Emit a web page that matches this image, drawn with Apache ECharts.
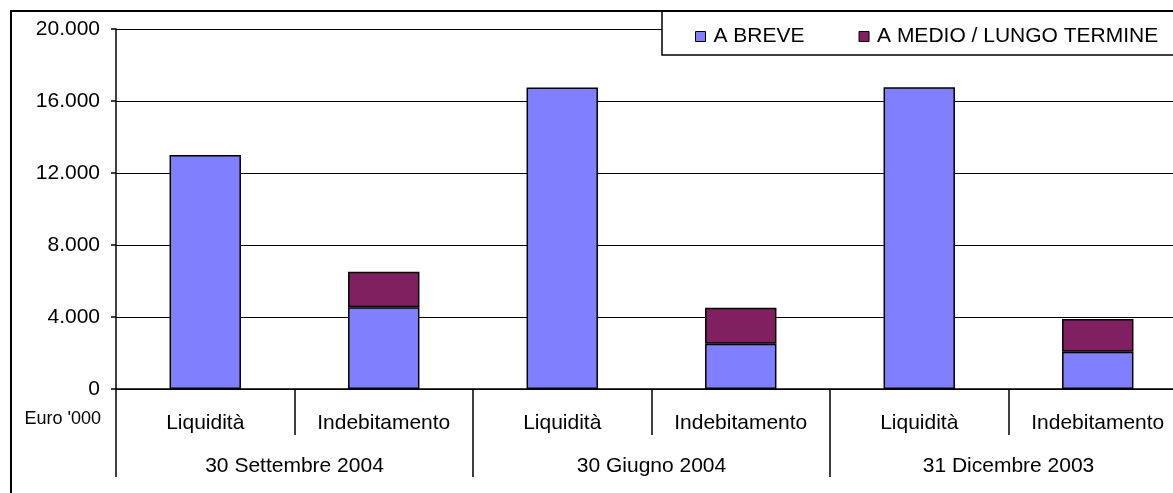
<!DOCTYPE html>
<html>
<head>
<meta charset="utf-8">
<script src="https://cdn.jsdelivr.net/npm/echarts@6/dist/echarts.min.js"></script>
<style>
html,body{margin:0;padding:0;background:#fff;}
#chart{width:1173px;height:493px;}
</style>
</head>
<body>
<div id="chart"></div>
<script>
var categories = ['Liquidità', 'Indebitamento', 'Liquidità', 'Indebitamento', 'Liquidità', 'Indebitamento'];
var groups = ['30 Settembre 2004', '30 Giugno 2004', '31 Dicembre 2003'];
var seriesNames = ['A BREVE', 'A MEDIO / LUNGO TERMINE'];
var breve = [13000, 4540, 16750, 2520, 16770, 2070];
var medio = [null, 1980, null, 2000, null, 1820];
var yTicks = [0, 4000, 8000, 12000, 16000, 20000];
var unitLabel = "Euro '000";

var FONT = "'Liberation Sans', Arial, sans-serif";
var chart = echarts.init(document.getElementById('chart'));

function fmt(v) {
  if (v === 0) return '0';
  return (v / 1000) + '.000';
}

chart.setOption({
  animation: false,
  backgroundColor: '#ffffff',
  textStyle: { fontFamily: FONT, color: '#000' },
  grid: { left: 116, top: 29, width: 1071, bottom: 104, containLabel: false, outerBoundsMode: 'none' },
  legend: {
    data: seriesNames,
    left: 690,
    top: 21,
    icon: 'rect',
    itemWidth: 10,
    itemHeight: 10,
    itemGap: 54,
    itemStyle: { borderColor: '#000', borderWidth: 1 },
    textStyle: { fontFamily: FONT, fontSize: 21, color: '#000', padding: [0, 0, 0, 3] },
    selectedMode: false
  },
  xAxis: [
    {
      type: 'category',
      data: categories,
      position: 'bottom',
      axisLine: { show: true, lineStyle: { color: '#000', width: 1.5 } },
      axisTick: { show: true, interval: 0, length: 46, lineStyle: { color: '#000', width: 1.5 } },
      axisLabel: { interval: 0, margin: 24, fontSize: 21, color: '#000', fontFamily: FONT },
      z: 1
    },
    {
      type: 'category',
      data: groups,
      position: 'bottom',
      axisLine: { show: false },
      axisTick: { show: true, interval: 0, length: 88, lineStyle: { color: '#000', width: 1.5 } },
      axisLabel: { interval: 0, margin: 67, fontSize: 21, color: '#000', fontFamily: FONT },
      z: 1
    }
  ],
  yAxis: {
    type: 'value',
    min: 0,
    max: 20000,
    interval: 4000,
    axisLine: { show: true, lineStyle: { color: '#000', width: 1.5 } },
    axisTick: { show: true, length: 5, lineStyle: { color: '#000', width: 1.5 } },
    axisLabel: {
      margin: 16, fontSize: 21, color: '#000', fontFamily: FONT,
      padding: [6, 0, 0, 0],
      formatter: function (v) { return yTicks.indexOf(v) >= 0 ? fmt(v) : ''; }
    },
    splitLine: { show: true, lineStyle: { color: '#000', width: 1.2 } }
  },
  series: [
    {
      name: seriesNames[0],
      type: 'bar',
      stack: 'tot',
      data: breve,
      barWidth: '40%',
      itemStyle: { color: '#8080FF', borderColor: '#000', borderWidth: 1.5 }
    },
    {
      name: seriesNames[1],
      type: 'bar',
      stack: 'tot',
      data: medio,
      barWidth: '40%',
      itemStyle: { color: '#802060', borderColor: '#000', borderWidth: 1.5 }
    }
  ],
  graphic: [
    {
      type: 'rect', z: 3, silent: true,
      shape: { x: 662, y: 11, width: 560, height: 44 },
      style: { fill: '#fff', stroke: '#000', lineWidth: 1.5 }
    },
    {
      type: 'rect', z: 3, silent: true,
      shape: { x: 11, y: 11, width: 1250, height: 520 },
      style: { fill: 'none', stroke: '#000', lineWidth: 2 }
    },
    {
      type: 'text', z: 3, silent: true,
      style: {
        x: 101, y: 419, text: unitLabel, fill: '#000',
        font: "18px 'Liberation Sans', Arial, sans-serif",
        textAlign: 'right', textVerticalAlign: 'middle'
      }
    }
  ]
});
</script>
</body>
</html>
